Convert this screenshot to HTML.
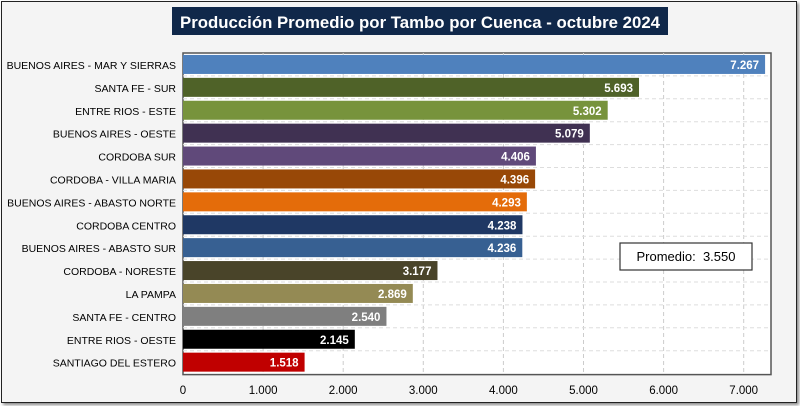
<!DOCTYPE html>
<html><head><meta charset="utf-8"><style>
body{margin:0;width:800px;height:406px;background:#fff;font-family:"Liberation Sans",sans-serif;overflow:hidden}
#frame{position:absolute;left:1px;top:1px;width:794px;height:400px;border:1px solid #222;background:#f4f4f4;box-shadow:2px 2px 3px #888}
</style></head><body>
<div id="frame"></div>
<svg id="chart" width="800" height="406" style="position:absolute;left:0;top:0"></svg>
<script>
const categories=["BUENOS AIRES - MAR Y SIERRAS","SANTA FE - SUR","ENTRE RIOS - ESTE","BUENOS AIRES - OESTE","CORDOBA SUR","CORDOBA - VILLA MARIA","BUENOS AIRES - ABASTO NORTE","CORDOBA CENTRO","BUENOS AIRES - ABASTO SUR","CORDOBA - NORESTE","LA PAMPA","SANTA FE - CENTRO","ENTRE RIOS - OESTE","SANTIAGO DEL ESTERO"];
const values=[7267,5693,5302,5079,4406,4396,4293,4238,4236,3177,2869,2540,2145,1518];
const valueLabels=["7.267","5.693","5.302","5.079","4.406","4.396","4.293","4.238","4.236","3.177","2.869","2.540","2.145","1.518"];
const barColors=["#4f81bd","#4f6228","#77933c","#403152","#60497a","#984807","#e46c0a","#1f3864","#376092","#494429","#948a54","#7f7f7f","#000000","#c00000"];
const ticks=[0,1000,2000,3000,4000,5000,6000,7000];
const tickLabels=["0","1.000","2.000","3.000","4.000","5.000","6.000","7.000"];
const average="3.550";
const NS="http://www.w3.org/2000/svg";
const svg=document.getElementById('chart');
const x0=183,pxPer=80.1/1000,top0=53,rowH=22.9,barH=19;
const X=v=>x0+v*pxPer;
const Y=i=>top0+i*rowH+(rowH-barH)/2;
function mk(t,a,p){const e=document.createElementNS(NS,t);for(const k in a)e.setAttribute(k,a[k]);(p||svg).appendChild(e);return e;}
const tb=mk('rect',{x:172,y:7,width:496,height:28,fill:'#10284a'});


const tt=mk('text',{x:180,y:28,fill:'#fff','font-size':17,'font-weight':'bold',textLength:480,lengthAdjust:'spacingAndGlyphs'});
tt.textContent='Producción Promedio por Tambo por Cuenca -  octubre 2024';


const pa=mk('rect',{x:x0,y:top0,width:588,height:rowH*14+1,fill:'#fff',stroke:'#555','stroke-width':1.5});


ticks.forEach((t,i)=>{
 if(i>0){const g=mk('line',{x1:X(t),x2:X(t),y1:top0,y2:top0+rowH*14,stroke:'#ccc','stroke-dasharray':'4,3'});
 
 }
 const l=mk('text',{x:X(t),y:394,'text-anchor':'middle','font-size':11.5,fill:'#000'});
 l.textContent=tickLabels[i];
 
 
});
for(let i=1;i<14;i++){const g=mk('line',{x1:x0,x2:x0+588,y1:top0+i*rowH,y2:top0+i*rowH,stroke:'#ddd','stroke-dasharray':'4,3'});
 
 }
categories.forEach((c,i)=>{
 const b=mk('rect',{x:x0,y:Y(i),width:X(values[i])-x0,height:barH,fill:barColors[i]});
 
 
 const v=mk('text',{x:X(values[i])-6,y:Y(i)+14,'text-anchor':'end',fill:'#fff','font-size':11.5,'font-weight':'bold'});
 v.textContent=valueLabels[i];
 
 
 const l=mk('text',{x:176,y:Y(i)+14,'text-anchor':'end',fill:'#000','font-size':10.5});
 l.textContent=c;
 
 
});
const ab=mk('rect',{x:620,y:243,width:132,height:27,fill:'#fff',stroke:'#333','stroke-width':1.2});


const at=mk('text',{x:686,y:261,'text-anchor':'middle','font-size':13,fill:'#000','xml:space':'preserve'});
at.style.whiteSpace='pre';
at.textContent='Promedio:  '+average;


</script>
</body></html>
